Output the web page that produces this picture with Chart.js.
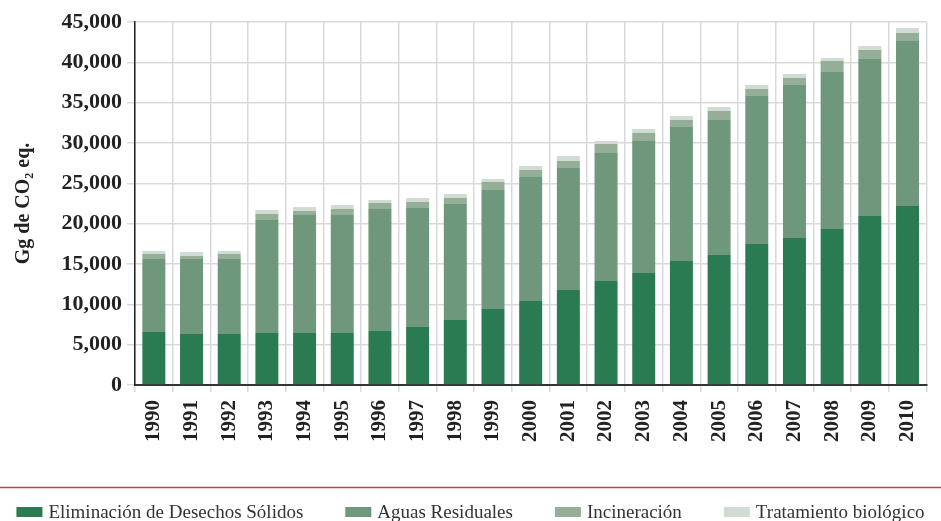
<!DOCTYPE html>
<html>
<head>
<meta charset="utf-8">
<script src="https://cdn.jsdelivr.net/npm/chart.js@4/dist/chart.umd.min.js"></script>
<style>
html,body{margin:0;padding:0;background:#fff;}
#wrap{width:941px;height:521px;position:relative;}
</style>
</head>
<body>
<div id="wrap"><canvas id="c" width="941" height="521"></canvas></div>
<script>
const years = ["1990","1991","1992","1993","1994","1995","1996","1997","1998","1999","2000","2001","2002","2003","2004","2005","2006","2007","2008","2009","2010"];
const solidos = [6570,6320,6320,6450,6450,6450,6690,7190,8060,9420,10410,11780,12890,13880,15370,16110,17480,18220,19340,20950,22190];
const aguas = [9050,9300,9300,14000,14620,14620,15130,14750,14380,14750,15370,15120,15870,16370,16610,16740,18340,18970,19460,19460,20450];
const incineracion = [620,370,620,750,500,750,740,750,740,990,870,870,1120,990,870,1110,870,860,1360,1120,990];
const tratamiento = [370,500,370,490,500,490,370,490,500,380,500,620,370,500,500,500,500,500,380,490,620];
const yTicks = [0,5000,10000,15000,20000,25000,30000,35000,40000,45000];

const serif = "'Liberation Serif', 'DejaVu Serif', serif";

const extrasPlugin = {
  id: 'extras',
  afterDraw(chart) {
    const ctx = chart.ctx;
    ctx.save();
    // red separator line
    ctx.strokeStyle = '#cc3b4d';
    ctx.lineWidth = 1.5;
    ctx.beginPath();
    ctx.moveTo(0, 487.5);
    ctx.lineTo(chart.width, 487.5);
    ctx.stroke();
    // legend
    ctx.font = "19px " + serif;
    ctx.textBaseline = 'middle';
    const boxW = 26, boxH = 10, textGap = 6, itemGap = 42;
    const ds = chart.data.datasets;
    const widths = ds.map(d => boxW + textGap + ctx.measureText(d.label).width);
    const total = widths.reduce((a,b)=>a+b,0) + itemGap*(ds.length-1);
    let x = Math.max(3, (chart.width - total)/2);
    const yc = 512;
    ds.forEach((d,i) => {
      ctx.fillStyle = d.backgroundColor;
      ctx.fillRect(x, yc - boxH/2, boxW, boxH);
      ctx.fillStyle = '#333';
      ctx.fillText(d.label, x + boxW + textGap, yc + 1);
      x += widths[i] + itemGap;
    });
    ctx.restore();
  }
};

new Chart(document.getElementById('c'), {
  type: 'bar',
  data: {
    labels: years,
    datasets: [
      {label: 'Eliminación de Desechos Sólidos', data: solidos, backgroundColor: '#2a7a52'},
      {label: 'Aguas Residuales', data: aguas, backgroundColor: '#6e977b'},
      {label: 'Incineración', data: incineracion, backgroundColor: '#94ae98'},
      {label: 'Tratamiento biológico', data: tratamiento, backgroundColor: '#d0dcd2'}
    ]
  },
  options: {
    responsive: false,
    animation: false,
    devicePixelRatio: 1,
    layout: {padding: {top: 22, right: 12, left: 0, bottom: 0}},
    datasets: {bar: {categoryPercentage: 1.0, barPercentage: 0.61, borderWidth: 0}},
    plugins: {legend: {display: false}, tooltip: {enabled: false}},
    scales: {
      x: {
        stacked: true,
        grid: {color: '#d9d9d9', lineWidth: 1.5, tickLength: 7, offset: true},
        border: {color: '#333', width: 2},
        ticks: {
          color: '#222', font: {family: serif, size: 21, weight: 'bold'},
          minRotation: 90, maxRotation: 90, padding: 8, autoSkip: false
        },
        afterFit(scale) { scale.height = 136; }
      },
      y: {
        stacked: true,
        min: 0, max: 45000,
        afterBuildTicks(scale) { scale.ticks = yTicks.map(v => ({value: v})); },
        grid: {color: '#d9d9d9', lineWidth: 1.5, tickLength: 8},
        border: {color: '#222', width: 1.5},
        ticks: {
          color: '#222', font: {family: serif, size: 22, weight: 'bold'}, padding: 5,
          callback: v => v.toLocaleString('en-US')
        },
        title: {
          display: true, text: 'Gg de CO₂ eq.', color: '#222',
          font: {family: serif, size: 20, weight: 'bold'}, padding: {top: 12, bottom: 0}
        },
        afterFit(scale) { scale.width = 135; }
      }
    }
  },
  plugins: [extrasPlugin]
});
</script>
</body>
</html>
